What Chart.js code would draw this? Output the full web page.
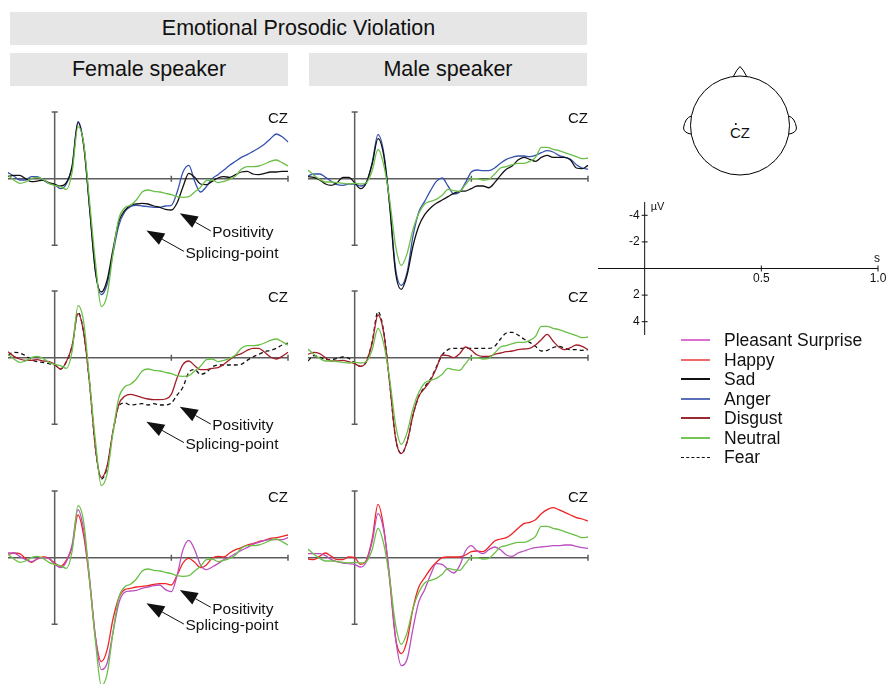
<!DOCTYPE html>
<html>
<head>
<meta charset="utf-8">
<script src="https://cdn.jsdelivr.net/npm/chart.js@4.4.1/dist/chart.umd.min.js"></script>
<style>
  body { margin: 0; background: #fff; font-family: "Liberation Sans", Arial, Helvetica, sans-serif; color: #111; }
  #page { position: relative; width: 889px; height: 684px; overflow: hidden; background: #fff; }
  .box { position: absolute; background: #e6e6e6; font-size: 21.5px; text-align: center; line-height: 33px; height: 33px; }
  canvas { position: absolute; }
  #legend { position: absolute; left: 681px; top: 331px; font-size: 17.5px; }
  #legend .row { height: 19.5px; line-height: 19.5px; white-space: nowrap; }
  #legend .swatch { display: inline-block; width: 29px; height: 2px; vertical-align: middle; margin-right: 14px; position: relative; top: -1px; }
  #head { position: absolute; left: 670px; top: 55px; }
</style>
</head>
<body>
<div id="page">
  <div class="box" style="left:10px;top:12px;width:577px;">Emotional Prosodic Violation</div>
  <div class="box" style="left:10px;top:53px;width:278px;">Female speaker</div>
  <div class="box" style="left:309px;top:53px;width:278px;">Male speaker</div>

  <svg id="head" width="140" height="130" viewBox="670 55 140 130">
    <path d="M733.5,76.2 Q737,69 740,66.5 Q743,69 746.5,76.2" fill="#fff" stroke="#000" stroke-width="1"/>
    <path d="M691.2,116 Q685,118 683.5,128 Q684,133 691,134" fill="#fff" stroke="#000" stroke-width="1"/>
    <path d="M788.8,116 Q795,118 796.5,128 Q796,133 789,134" fill="#fff" stroke="#000" stroke-width="1"/>
    <circle cx="740" cy="125.5" r="49.5" fill="none" stroke="#000" stroke-width="1"/>
    <circle cx="735.8" cy="124" r="1" fill="#000"/>
    <text x="740" y="137.5" text-anchor="middle" font-size="15" font-family="Liberation Sans, Arial, sans-serif" fill="#111">CZ</text>
  </svg>

  <canvas id="pF1" width="284" height="220" style="left:8px;top:92px"></canvas>
  <canvas id="pM1" width="284" height="220" style="left:308px;top:92px"></canvas>
  <canvas id="pF2" width="284" height="220" style="left:8px;top:271px"></canvas>
  <canvas id="pM2" width="284" height="220" style="left:308px;top:271px"></canvas>
  <canvas id="pF3" width="284" height="220" style="left:8px;top:471px"></canvas>
  <canvas id="pM3" width="284" height="220" style="left:308px;top:471px"></canvas>
  <canvas id="scale" width="299" height="160" style="left:590px;top:190px"></canvas>

  <div id="legend"></div>
</div>
<script>
// time axis, seconds
const time = [-0.2,-0.175,-0.15,-0.125,-0.1,-0.075,-0.05,-0.025,0,0.025,0.05,0.075,0.1,0.125,0.15,0.175,0.2,0.225,0.25,0.275,0.3,0.325,0.35,0.375,0.4,0.425,0.45,0.475,0.5,0.525,0.55,0.575,0.6,0.625,0.65,0.675,0.7,0.725,0.75,0.775,0.8,0.825,0.85,0.875,0.9,0.925,0.95,0.975,1.0];

// amplitudes in µV (negative plotted up)
const femaleSad = [-0.15,-0.25,-0.25,0,0.22,0.18,0.1,0.3,0.42,0.55,0.3,-0.9,-4.2,-2.4,2.3,7.0,8.5,7.6,5.3,3.2,2.4,2.0,1.9,1.85,1.9,2.05,2.15,2.3,2.35,1.8,0.6,-0.4,-0.1,0.4,0.45,0.2,-0.05,-0.15,-0.1,-0.3,-0.5,-0.55,-0.35,-0.3,-0.4,-0.5,-0.5,-0.55,-0.55];
const femaleAnger = [-0.45,-0.2,0.1,0.1,-0.15,-0.15,0.1,0.35,0.45,0.75,0.4,-1.0,-4.3,-2.5,2.2,7.0,8.7,7.9,5.6,3.5,2.5,2.1,2.0,2.05,2.1,2.15,2.15,2.05,2.0,1.0,-0.5,-1.0,0.2,1.0,0.6,0.0,-0.3,-0.65,-1.0,-1.3,-1.6,-1.8,-2.05,-2.3,-2.6,-3.0,-3.35,-3.15,-2.75];
const femaleNeutral = [-0.25,0.1,0.35,0.25,0.0,-0.1,0.05,0.35,0.5,0.6,0.8,-0.5,-3.9,-2.6,1.8,6.3,9.6,8.7,5.6,3.0,2.2,2.0,1.6,1.0,0.85,0.95,1.0,1.1,1.2,1.35,1.4,1.35,1.0,0.65,0.15,0.1,0.3,0.2,0.05,-0.2,-0.7,-0.9,-0.9,-0.95,-1.1,-1.3,-1.4,-1.2,-0.95];
const femaleDisgust = [-0.45,-0.1,0.1,0.2,0.2,0.15,0.25,0.3,0.5,0.85,0.3,-0.9,-3.3,-1.8,2.0,6.8,9.0,8.1,5.5,3.5,2.9,2.75,2.85,3.0,3.1,3.15,3.15,3.1,2.75,1.5,0.5,0.25,0.6,0.9,0.9,0.8,0.75,0.5,0.15,-0.15,-0.3,-0.55,-0.7,-0.7,-0.4,-0.05,0.1,-0.1,-0.4];
const femaleFear = [-0.2,-0.4,-0.35,-0.15,0.15,0.3,0.35,0.45,0.55,0.85,0.3,-0.9,-3.4,-1.8,2.0,6.8,9.1,8.2,5.6,3.6,3.4,3.55,3.5,3.45,3.55,3.45,3.55,3.55,3.4,2.8,2.2,1.1,0.9,1.25,1.1,0.7,0.55,0.55,0.55,0.55,0.5,0.2,-0.05,-0.25,-0.45,-0.55,-0.7,-0.95,-1.1];
const femaleHappy = [-0.25,-0.35,-0.3,0.05,0.35,0.1,-0.05,0.05,0.4,0.65,0.2,-0.8,-3.2,-1.6,1.8,6.0,7.8,6.9,4.6,3.0,2.4,2.3,2.2,2.15,2.1,2.0,1.95,1.95,2.05,1.3,0.4,0.05,0.35,0.75,0.55,0.05,-0.1,-0.05,-0.35,-0.6,-0.75,-0.95,-1.05,-1.2,-1.3,-1.45,-1.5,-1.6,-1.7];
const femalePleasant = [-0.35,-0.35,-0.1,0.15,0.3,0.1,0.0,0.05,0.5,0.75,0.3,-1.0,-3.6,-2.0,1.6,6.0,8.4,7.9,5.6,3.4,2.6,2.5,2.45,2.3,2.2,2.1,2.05,2.4,2.55,1.3,-0.6,-1.3,-0.6,0.55,0.9,0.7,0.45,0.15,-0.05,-0.3,-0.55,-0.75,-1.0,-1.15,-1.3,-1.35,-1.35,-1.35,-1.5];

const maleSad = [-0.15,-0.1,0.1,0.4,0.5,0.3,-0.1,-0.1,0.3,0.75,0.3,-1.1,-3.0,-1.7,2.0,7.0,8.3,7.2,5.05,3.55,2.7,2.2,1.85,1.6,1.35,1.1,0.95,0.93,0.75,0.55,0.55,0.68,0.3,-0.25,-0.7,-0.95,-1.4,-1.6,-1.45,-1.3,-1.6,-1.75,-1.6,-1.6,-1.6,-1.4,-0.8,-0.75,-1.0];
const maleAnger = [-0.2,-0.35,-0.35,-0.1,0.2,0.45,0.5,0.4,0.4,0.55,0.3,-1.2,-3.3,-1.9,1.9,6.7,8.0,7.0,4.3,2.5,1.7,0.9,0.2,-0.05,0.55,1.15,1.0,0.3,-0.5,-0.65,-0.6,-0.6,-0.8,-1.15,-1.45,-1.6,-1.7,-1.7,-1.65,-1.75,-1.95,-2.1,-2.0,-1.75,-1.6,-1.45,-1.05,-0.8,-0.7];
const maleNeutral = [-0.65,-0.25,0.05,0.25,0.25,0.3,0.35,0.4,0.35,0.4,0.3,-0.6,-2.2,-1.0,1.6,5.0,6.5,5.6,3.8,2.6,1.9,1.7,1.55,1.25,0.8,0.9,0.95,0.45,0.0,0.0,0.1,0.05,-0.35,-0.8,-0.9,-1.05,-1.15,-1.15,-1.3,-1.6,-2.35,-2.35,-2.2,-2.1,-1.95,-1.8,-1.65,-1.5,-1.55];
const maleDisgust = [-0.25,-0.4,-0.3,0.0,0.25,0.25,0.2,0.3,0.45,0.65,0.3,-1.1,-3.2,-1.8,1.9,6.0,7.2,6.3,4.3,2.9,2.3,1.7,0.8,-0.2,-0.15,0.0,-0.3,-0.8,-0.55,-0.2,-0.1,-0.1,-0.25,-0.35,-0.45,-0.5,-0.6,-0.65,-0.7,-0.95,-1.35,-1.75,-1.25,-0.8,-0.6,-0.75,-0.95,-0.85,-0.6];
const maleFear = [0.25,-0.15,-0.05,0.15,0.15,0.05,-0.05,0.05,0.4,0.65,0.3,-1.2,-3.45,-1.9,1.9,6.0,7.2,6.3,4.3,2.9,2.2,1.6,0.7,-0.2,-0.6,-0.7,-0.7,-0.7,-0.7,-0.7,-0.7,-0.7,-0.85,-1.4,-1.85,-1.9,-1.7,-1.4,-1.15,-0.85,-0.5,-0.55,-0.75,-0.85,-0.7,-0.6,-0.6,-0.55,-0.6];
const maleHappy = [0.1,0.15,-0.1,-0.35,-0.1,0.15,0.15,-0.05,0.0,0.5,0.2,-1.4,-4.0,-2.2,1.7,6.0,7.2,6.2,3.8,2.2,1.5,0.85,0.35,0.0,-0.05,-0.05,-0.05,-0.2,-0.45,-0.5,-0.45,-0.8,-1.25,-1.4,-1.5,-1.8,-2.2,-2.55,-2.65,-2.85,-3.3,-3.6,-3.75,-3.6,-3.4,-3.2,-3.0,-2.9,-2.75];
const malePleasant = [-0.3,-0.3,-0.3,-0.15,0.15,0.3,0.4,0.45,0.5,0.7,0.3,-1.2,-3.3,-2.0,1.4,6.0,8.1,7.6,5.3,3.3,2.4,1.3,0.45,0.5,0.9,1.15,0.6,-0.5,-0.9,-0.5,-0.3,-0.6,-0.8,-0.6,-0.2,-0.1,-0.35,-0.5,-0.65,-0.75,-0.8,-0.85,-0.9,-0.9,-0.95,-0.95,-0.85,-0.75,-0.7];

const conditions = ['Pleasant Surprise', 'Happy', 'Sad', 'Anger', 'Disgust', 'Neutral', 'Fear'];
const panelTimeTicks = [0.5, 1.0];
const scaleUvTicks = [-4, -2, 2, 4];
const scaleTimeTicks = [0.5, 1.0];

// arrow annotations on the female panels: [tip time, tip µV, tail time, tail µV]
const positivityArrows = [[0.536, 2.6, 0.669, 3.92], [0.536, 3.68, 0.669, 4.98], [0.536, 2.42, 0.669, 3.72]];
const splicingArrows = [[0.393, 3.88, 0.554, 5.45], [0.393, 4.8, 0.554, 6.37], [0.393, 3.42, 0.554, 4.98]];

const style = {
  'Pleasant Surprise': { color: '#bb4fbf', legend: '#dc6fd0', dash: [] },
  Happy: { color: '#f02424', legend: '#f06a6a', dash: [] },
  Sad: { color: '#111111', legend: '#111111', dash: [] },
  Anger: { color: '#3651b0', legend: '#5a6fb8', dash: [] },
  Disgust: { color: '#a21f2a', legend: '#9a2a30', dash: [] },
  Neutral: { color: '#6cbf48', legend: '#72c455', dash: [] },
  Fear: { color: '#111111', legend: '#111111', dash: [4, 3] },
};
const FONT = '"Liberation Sans", Arial, Helvetica, sans-serif';
const AXIS = '#5c5c5c';

const pts = (vals) => time.map((t, i) => ({ x: t, y: vals[i] }));

const panelAxes = {
  id: 'panelAxes',
  beforeDatasetsDraw(chart) {
    const { ctx } = chart;
    const { x, y } = chart.scales;
    const x0 = x.getPixelForValue(0), y0 = y.getPixelForValue(0);
    const yt = y.getPixelForValue(-5), yb = y.getPixelForValue(5);
    ctx.save();
    ctx.strokeStyle = AXIS;
    ctx.lineWidth = 1.5;
    ctx.beginPath();
    ctx.moveTo(x.getPixelForValue(time[0]), y0);
    ctx.lineTo(x.getPixelForValue(time[time.length - 1]), y0);
    panelTimeTicks.forEach((t) => {
      const px = x.getPixelForValue(t);
      ctx.moveTo(px, y0 - 3);
      ctx.lineTo(px, y0 + 3);
    });
    ctx.moveTo(x0, yt);
    ctx.lineTo(x0, yb);
    ctx.moveTo(x0 - 3, yt);
    ctx.lineTo(x0 + 3, yt);
    ctx.moveTo(x0 - 3, yb);
    ctx.lineTo(x0 + 3, yb);
    ctx.stroke();
    ctx.restore();
  },
  afterDraw(chart, args, opts) {
    const { ctx } = chart;
    const { x, y } = chart.scales;
    ctx.save();
    ctx.fillStyle = '#111';
    ctx.font = `15px ${FONT}`;
    ctx.textAlign = 'right';
    ctx.textBaseline = 'alphabetic';
    ctx.fillText('CZ', x.getPixelForValue(1.0), y.getPixelForValue(-4.2));

    const arrow = (a, label) => {
      const tx = x.getPixelForValue(a[0]), ty = y.getPixelForValue(a[1]);
      const ex = x.getPixelForValue(a[2]), ey = y.getPixelForValue(a[3]);
      const ang = Math.atan2(ey - ty, ex - tx);
      const len = 18, hw = 6.5;
      const bx = tx + Math.cos(ang) * len, by = ty + Math.sin(ang) * len;
      ctx.beginPath();
      ctx.moveTo(tx, ty);
      ctx.lineTo(bx - Math.sin(ang) * hw, by + Math.cos(ang) * hw);
      ctx.lineTo(bx + Math.sin(ang) * hw, by - Math.cos(ang) * hw);
      ctx.closePath();
      ctx.fill();
      ctx.strokeStyle = '#111';
      ctx.lineWidth = 1;
      ctx.beginPath();
      ctx.moveTo(bx, by);
      ctx.lineTo(ex, ey);
      ctx.stroke();
      ctx.font = `15.5px ${FONT}`;
      ctx.textAlign = 'left';
      ctx.textBaseline = 'middle';
      ctx.fillText(label, ex + 1.5, ey + 2);
    };
    if (opts.row != null) {
      arrow(positivityArrows[opts.row], 'Positivity');
      arrow(splicingArrows[opts.row], 'Splicing-point');
    }
    ctx.restore();
  },
};

const makePanel = (id, series, row) =>
  new Chart(document.getElementById(id), {
    type: 'line',
    data: {
      datasets: series.map(([name, vals]) => ({
        label: name,
        data: pts(vals),
        borderColor: style[name].color,
        borderDash: style[name].dash,
        borderWidth: 1.3,
        fill: false,
        clip: false,
      })),
    },
    options: {
      responsive: false,
      animation: false,
      events: [],
      layout: { padding: { left: 0, right: 4, top: 0, bottom: 0 } },
      elements: { point: { radius: 0 }, line: { cubicInterpolationMode: 'monotone' } },
      plugins: { legend: { display: false }, tooltip: { enabled: false }, panelAxes: { row } },
      scales: {
        x: { type: 'linear', min: -0.2, max: 1.0, display: false },
        y: { type: 'linear', min: -6.5, max: 10, reverse: true, display: false },
      },
    },
    plugins: [panelAxes],
  });

makePanel('pF1', [['Neutral', femaleNeutral], ['Sad', femaleSad], ['Anger', femaleAnger]], 0);
makePanel('pM1', [['Neutral', maleNeutral], ['Sad', maleSad], ['Anger', maleAnger]], null);
makePanel('pF2', [['Neutral', femaleNeutral], ['Disgust', femaleDisgust], ['Fear', femaleFear]], 1);
makePanel('pM2', [['Neutral', maleNeutral], ['Disgust', maleDisgust], ['Fear', maleFear]], null);
makePanel('pF3', [['Neutral', femaleNeutral], ['Pleasant Surprise', femalePleasant], ['Happy', femaleHappy]], 2);
makePanel('pM3', [['Neutral', maleNeutral], ['Pleasant Surprise', malePleasant], ['Happy', maleHappy]], null);

// calibration axes
const scaleAxes = {
  id: 'scaleAxes',
  afterDraw(chart) {
    const { ctx } = chart;
    const { x, y } = chart.scales;
    const x0 = x.getPixelForValue(0), y0 = y.getPixelForValue(0);
    ctx.save();
    ctx.strokeStyle = '#111';
    ctx.fillStyle = '#111';
    ctx.lineWidth = 1;
    ctx.beginPath();
    ctx.moveTo(x.getPixelForValue(-0.2), y0);
    ctx.lineTo(x.getPixelForValue(1.0), y0);
    ctx.moveTo(x0, y.getPixelForValue(-5));
    ctx.lineTo(x0, y.getPixelForValue(5));
    scaleUvTicks.forEach((v) => {
      const py = y.getPixelForValue(v);
      ctx.moveTo(x0 - 3, py);
      ctx.lineTo(x0 + 3, py);
    });
    scaleTimeTicks.forEach((t) => {
      const px = x.getPixelForValue(t);
      ctx.moveTo(px, y0 - 3);
      ctx.lineTo(px, y0 + 3);
    });
    ctx.stroke();
    ctx.font = `12px ${FONT}`;
    ctx.textAlign = 'right';
    ctx.textBaseline = 'middle';
    scaleUvTicks.forEach((v) => ctx.fillText(String(v), x0 - 5, y.getPixelForValue(v)));
    ctx.textAlign = 'center';
    ctx.textBaseline = 'top';
    scaleTimeTicks.forEach((t) => ctx.fillText(t.toFixed(1), x.getPixelForValue(t), y0 + 4));
    ctx.textBaseline = 'middle';
    ctx.fillText('s', x.getPixelForValue(1.0) - 1, y0 - 10);
    ctx.textAlign = 'left';
    ctx.font = `11px ${FONT}`;
    ctx.fillText('\u00B5V', x0 + 6, y.getPixelForValue(-4.6));
    ctx.restore();
  },
};

new Chart(document.getElementById('scale'), {
  type: 'line',
  data: { datasets: [{ data: [] }] },
  options: {
    responsive: false,
    animation: false,
    events: [],
    layout: { padding: { left: 8, right: 11, top: 12, bottom: 15 } },
    plugins: { legend: { display: false }, tooltip: { enabled: false } },
    scales: {
      x: { type: 'linear', min: -0.2, max: 1.0, display: false },
      y: { type: 'linear', min: -5, max: 5, reverse: true, display: false },
    },
  },
  plugins: [scaleAxes],
});

// legend
const legend = document.getElementById('legend');
conditions.forEach((name) => {
  const row = document.createElement('div');
  row.className = 'row';
  const sw = document.createElement('span');
  sw.className = 'swatch';
  const s = style[name];
  if (s.dash.length) {
    sw.style.height = '0';
    sw.style.borderTop = `1px dashed ${s.legend}`;
  } else {
    sw.style.background = s.legend;
  }
  row.appendChild(sw);
  row.appendChild(document.createTextNode(name));
  legend.appendChild(row);
});
</script>
</body>
</html>
